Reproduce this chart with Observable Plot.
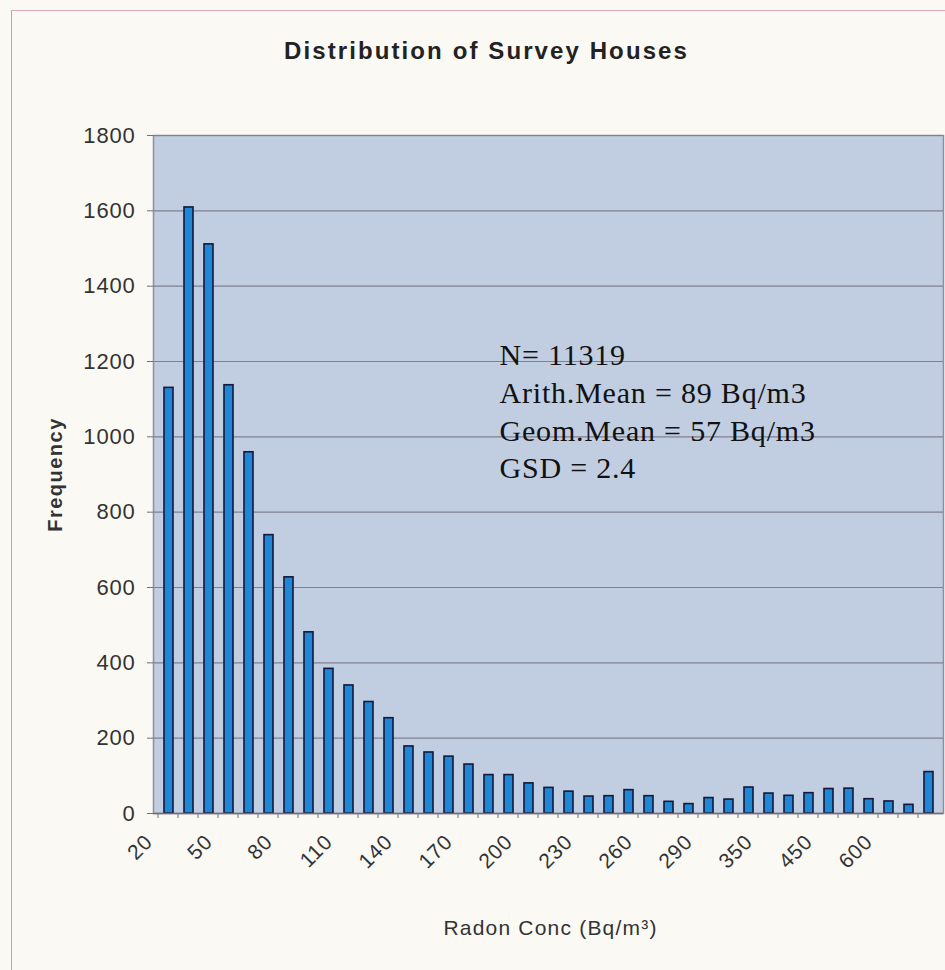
<!DOCTYPE html>
<html>
<head>
<meta charset="utf-8">
<script src="https://cdn.jsdelivr.net/npm/d3@7"></script>
<script src="https://cdn.jsdelivr.net/npm/@observablehq/plot@0.6"></script>
<style>
  html, body { margin: 0; padding: 0; background: #fbf9f4; }
  #wrap { position: relative; width: 945px; height: 970px; overflow: hidden; }
  #border { position: absolute; left: 11px; top: 10px; width: 1000px; height: 1000px;
            border-left: 1px solid #b9a3b6; border-top: 1px solid #d9a9bd; }
  #chart { position: absolute; left: 0; top: 0; }
</style>
</head>
<body>
<div id="wrap"><div id="border"></div><div id="chart"></div></div>
<script>
// Radon concentration bins (Bq/m3)
const categories = ["20","30","40","50","60","70","80","90","100","110","120","130","140","150","160","170","180","190","200","210","220","230","240","250","260","270","280","290","310","330","350","380","410","450","500","550","600","800","1000"];
// Number of surveyed houses per bin
const frequency = [1130,1609,1511,1137,959,739,627,481,384,340,296,253,178,162,151,130,102,102,80,68,58,45,46,62,46,31,25,41,37,69,53,47,54,65,66,38,32,23,110];
// Tick labels shown on the x axis
const xTickLabels = ["20","50","80","110","140","170","200","230","260","290","350","450","600"];
const yTicks = [0,200,400,600,800,1000,1200,1400,1600,1800];

const title = "Distribution of Survey Houses";
const xLabel = "Radon Conc (Bq/m³)";
const yLabel = "Frequency";
const stats = ["N= 11319", "Arith.Mean = 89 Bq/m3", "Geom.Mean = 57 Bq/m3", "GSD = 2.4"];

const data = categories.map((c, i) => ({bin: c, freq: frequency[i]}));
const sans = "'Liberation Sans', Arial, Helvetica, sans-serif";

const chart = Plot.plot({
  width: 945,
  height: 970,
  marginTop: 135,
  marginRight: 2,
  marginBottom: 157,
  marginLeft: 153,
  style: {background: "transparent", fontFamily: sans, color: "#333"},
  x: {type: "band", domain: categories, paddingInner: 0.57, paddingOuter: 0.285, axis: null},
  y: {domain: [0, 1800], axis: null},
  marks: [
    Plot.frame({fill: "#c1cde1", stroke: "#8e8e9c", strokeWidth: 1.5}),
    Plot.gridY(yTicks.slice(1), {stroke: "#7f8090", strokeOpacity: 1, strokeWidth: 1.2}),
    Plot.barY(data, {x: "bin", y: "freq", fill: "#1f87d5", stroke: "#15183a", strokeWidth: 1.6}),
    Plot.ruleY([0], {stroke: "#6f6f7c", strokeWidth: 1.5}),
    Plot.axisY({ticks: yTicks, tickSize: 6, tickPadding: 12, fontSize: 22, stroke: "#6f6f7c",
                tickFormat: d => String(d), label: null, fill: "#333"}),
    Plot.axisX({ticks: categories, tickSize: 5, tickPadding: 20, fontSize: 21, dx: -11,
                tickRotate: -45, stroke: "#6f6f7c", fill: "#333", label: null,
                tickFormat: d => xTickLabels.includes(d) ? d : ""}),
    Plot.text([stats.join("\n")], {
      frameAnchor: "top-left", dx: 346, dy: 203,
      lineAnchor: "top", textAnchor: "start", lineHeight: 1.257,
      fontFamily: "'Liberation Serif', 'Times New Roman', serif", fontSize: 30, fill: "#111"
    }),
    Plot.text([title], {frameAnchor: "top", dx: -62, dy: -94, lineAnchor: "top",
      fontSize: 24, fontWeight: "bold", fill: "#222"}),
    Plot.text([yLabel], {frameAnchor: "left", dx: -98, rotate: -90, textAnchor: "middle",
      fontSize: 20, fontWeight: "bold", fill: "#333"}),
    Plot.text([xLabel], {frameAnchor: "bottom", dx: 2, dy: 107, lineAnchor: "top",
      fontSize: 21, fill: "#333"})
  ]
});

// letter spacing to mimic the horizontally stretched scan typography
const svg = d3.select(chart);
svg.selectAll('g[aria-label="y-axis tick label"] text').style("letter-spacing", "0.8px");
svg.selectAll('g[aria-label="x-axis tick label"]').each(function() {
  const g = d3.select(this);
  g.attr("transform", (g.attr("transform") || "") + " translate(-9,0)");
  g.selectAll("text").style("letter-spacing", "0.8px");
});
svg.selectAll('g[aria-label="text"] text').each(function() {
  const t = this.textContent;
  const s = d3.select(this);
  if (t === title) s.style("letter-spacing", "2.1px");
  else if (t === yLabel) s.style("letter-spacing", "1.5px");
  else if (t === xLabel) s.style("letter-spacing", "1.2px");
  else s.style("letter-spacing", "0.8px");
});
document.getElementById("chart").append(chart);
</script>
</body>
</html>
